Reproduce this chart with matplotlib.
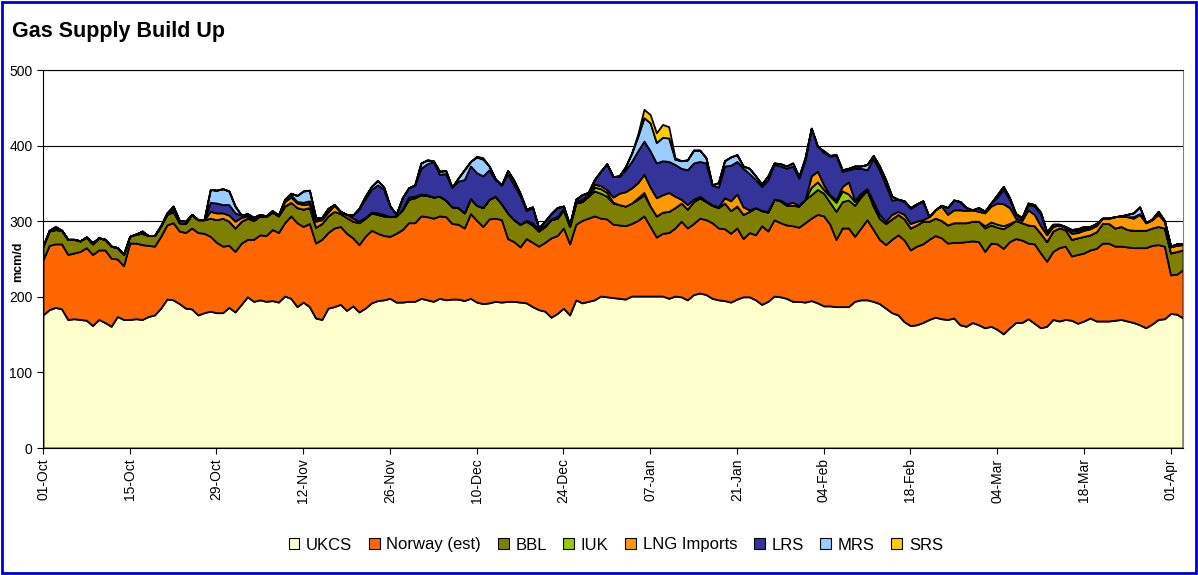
import matplotlib
matplotlib.use("Agg")
import numpy as np
import matplotlib.pyplot as plt
from matplotlib.patches import Patch, Rectangle

plt.rcParams['font.family'] = ['Liberation Sans', 'DejaVu Sans']

# daily supply, mcm/d, 01-Oct .. 03-Apr
ukcs = [176,183,186,184,170,171,170,169,162,170,
        166,161,174,170,170,171,170,174,176,185,
        197,196,191,185,184,176,179,181,179,179,
        186,180,190,200,194,196,194,195,193,201,
        198,187,193,187,172,170,185,187,190,182,
        188,180,185,192,195,196,198,193,193,194,
        194,198,196,194,198,196,197,197,195,198,
        193,191,192,194,193,194,194,193,192,187,
        183,181,173,178,185,176,196,192,194,196,
        201,200,199,198,197,201,201,201,201,201,
        201,198,201,200,196,203,205,203,198,196,
        195,193,197,200,200,196,190,194,201,200,
        198,194,194,193,195,192,188,188,187,187,
        187,194,196,196,194,191,185,179,176,167,
        162,163,166,170,173,171,170,172,163,161,
        166,163,159,161,157,151,159,166,166,171,
        165,159,161,170,168,170,169,165,168,172,
        168,168,168,169,170,168,166,163,159,164,
        170,171,178,177,172]

norway = [73,85,84,86,86,87,90,96,94,92,
          96,90,76,71,101,100,99,94,91,95,
          98,102,96,100,107,109,105,99,93,88,
          82,80,81,76,82,86,87,94,92,97,
          109,111,100,110,99,106,100,104,103,102,
          90,89,95,96,89,85,82,91,96,104,
          104,109,110,110,109,110,100,99,96,112,
          108,102,111,110,109,83,79,73,85,85,
          84,91,105,103,106,94,100,109,110,111,
          103,103,97,97,97,96,100,106,92,78,
          83,87,90,100,95,94,99,99,100,95,
          95,91,94,77,85,86,104,93,101,98,
          97,100,98,105,109,117,119,108,89,104,
          104,86,95,106,95,85,84,97,106,108,
          100,104,104,106,108,107,101,100,109,112,
          108,110,101,110,113,113,114,111,109,100,
          105,99,86,90,97,97,85,91,90,90,
          96,103,103,98,97,98,99,102,106,104,
          99,96,51,53,64]

bbl = [18,19,19,18,20,18,14,14,14,16,
       14,16,15,15,9,12,15,13,14,14,
       14,15,11,12,18,17,18,24,30,37,
       32,31,29,28,25,25,25,23,22,22,
       18,20,23,21,21,21,22,22,17,21,
       22,29,24,23,25,26,26,23,26,31,
       33,28,28,28,26,22,22,22,20,20,
       20,25,26,29,21,34,29,30,23,23,
       20,21,24,23,24,23,28,25,29,33,
       33,30,28,27,26,27,28,28,27,28,
       28,28,27,24,25,29,27,24,23,27,
       34,30,29,32,28,36,20,25,27,29,
       26,27,28,31,31,33,30,29,37,35,
       37,41,41,39,31,28,28,27,27,28,
       29,28,30,24,23,23,24,26,26,25,
       26,27,31,24,22,26,22,24,23,24,
       24,26,26,27,26,22,22,22,22,20,
       22,26,26,24,26,23,23,23,23,23,
       24,24,29,30,26]

iuk = [0,0,0,0,0,0,0,0,0,0,
       0,0,0,0,0,0,0,0,0,0,
       0,0,0,0,0,0,0,0,0,0,
       0,0,0,0,0,0,0,0,0,0,
       0,0,0,0,0,0,0,0,0,0,
       0,0,0,0,0,0,0,0,0,0,
       0,0,0,0,0,0,0,0,0,0,
       0,0,0,0,0,0,0,0,0,0,
       0,0,0,0,0,0,0,0,0,5,
       6,5,1,0,0,0,2,3,0,0,
       0,0,0,0,0,0,0,0,0,0,
       0,0,0,0,0,0,0,0,0,0,
       0,0,0,0,10,10,5,8,12,14,
       8,5,2,0,0,0,0,0,0,0,
       0,0,0,0,0,0,0,0,0,0,
       0,0,3,4,4,4,2,0,0,0,
       0,0,0,0,0,0,0,0,0,0,
       0,0,0,0,0,0,0,0,0,0,
       0,0,0,0,0]

lng = [0,0,0,0,0,0,0,0,0,0,
       0,0,0,0,0,0,0,0,0,0,
       0,0,0,0,0,0,0,9,9,7,
       8,9,5,3,2,1,1,1,1,6,
       7,6,6,5,8,5,5,8,2,4,
       4,2,1,1,2,2,0,0,1,3,
       2,1,1,0,0,0,0,0,0,0,
       0,0,0,0,0,0,0,0,1,3,
       1,1,1,2,2,1,2,3,2,4,
       4,4,7,15,19,20,20,24,25,24,
       23,25,15,5,6,3,2,1,1,1,
       7,13,16,10,2,0,0,1,0,1,
       2,4,1,0,15,14,6,2,3,6,
       16,2,3,2,6,5,3,6,4,6,
       6,5,2,6,11,19,14,17,17,16,
       15,13,17,21,28,29,21,3,3,20,
       15,10,9,6,4,3,8,7,8,8,
       8,7,7,15,14,17,16,21,10,11,
       16,9,8,8,7]

lrs = [0,1,1,0,0,0,0,0,0,0,
       0,0,0,0,0,0,0,0,0,0,
       2,4,0,0,0,0,0,12,13,11,
       14,11,3,2,2,1,0,1,0,2,
       3,2,3,4,3,2,3,1,1,0,
       4,16,25,30,37,33,14,2,15,12,
       15,34,41,47,29,35,26,35,44,43,
       43,42,39,22,25,52,46,38,13,20,
       3,6,7,12,3,1,3,6,3,6,
       19,34,27,22,29,35,42,44,48,46,
       45,41,42,41,46,48,46,50,26,26,
       42,47,43,51,48,37,32,42,46,45,
       47,48,36,52,63,33,43,51,59,20,
       16,42,33,25,57,59,48,19,16,17,
       20,22,24,0,0,1,9,13,11,4,
       0,5,2,4,8,19,11,5,3,7,
       11,16,3,2,0,0,4,3,3,1,
       1,0,0,0,0,0,2,1,0,0,
       1,0,1,2,1]

mrs = [0,0,3,0,0,0,0,0,2,0,
       0,0,0,0,0,0,3,0,0,0,
       0,3,3,3,0,0,0,17,17,21,
       18,9,0,1,0,0,0,0,0,1,
       2,8,15,14,2,1,2,0,0,0,
       0,1,3,4,6,3,0,0,0,0,
       0,7,5,1,4,4,0,4,13,6,
       21,22,5,1,0,4,6,3,2,1,
       0,0,0,0,0,0,0,0,0,0,
       0,0,0,1,4,11,19,31,37,27,
       31,31,7,10,13,17,15,7,0,6,
       7,11,9,3,7,5,3,5,2,3,
       3,4,2,3,0,0,2,1,1,2,
       2,3,3,7,4,5,7,5,0,1,
       1,1,1,0,0,0,0,0,0,0,
       0,0,0,0,3,4,2,1,1,2,
       2,2,1,1,1,1,1,2,2,2,
       2,0,0,0,0,3,5,9,0,1,
       3,1,0,0,0]

srs = [0,0,0,0,0,0,0,0,0,0,
       0,0,0,0,0,0,0,0,0,0,
       0,0,0,0,0,0,0,0,0,0,
       0,0,0,0,0,0,0,0,0,0,
       0,0,0,0,0,0,0,0,0,0,
       0,0,0,0,0,0,0,0,0,0,
       0,0,0,0,0,0,0,0,0,0,
       1,2,0,0,0,0,0,0,0,0,
       0,0,0,0,0,0,0,0,0,0,
       0,0,0,0,0,0,3,11,11,13,
       17,15,2,0,0,0,0,0,0,0,
       0,0,0,0,0,0,0,0,0,0,
       0,0,0,0,0,0,0,0,0,0,
       0,0,0,0,0,0,0,0,0,0,
       0,0,0,0,0,0,0,0,0,0,
       0,0,0,0,0,0,0,0,0,0,
       0,0,0,0,0,0,0,0,0,0,
       0,0,0,0,0,0,0,0,0,0,
       0,0,0,0,0]

labels = ['UKCS', 'Norway (est)', 'BBL', 'IUK', 'LNG Imports', 'LRS', 'MRS', 'SRS']
colors = ['#FFFFCC', '#FF6600', '#808000', '#99CC00', '#FF9900', '#333399', '#99CCFF', '#FFCC00']
tick_labels = ['01-Oct', '15-Oct', '29-Oct', '12-Nov', '26-Nov', '10-Dec', '24-Dec',
               '07-Jan', '21-Jan', '04-Feb', '18-Feb', '04-Mar', '18-Mar', '01-Apr']

series = [ukcs, norway, bbl, iuk, lng, lrs, mrs, srs]
days = np.arange(len(ukcs))

fig = plt.figure(figsize=(11.98, 5.75), dpi=100)
ax = fig.add_axes([43/1198, 1-448/575, (1183-43)/1198, (448-70)/575])

ax.stackplot(days, *series, colors=colors, edgecolor='black', linewidth=1.3, zorder=2)

ax.set_xlim(0, len(ukcs) - 1)
ax.set_ylim(0, 500)
ax.set_yticks(range(0, 501, 100))
ax.set_xticks(days[::14][:len(tick_labels)])
ax.set_xticklabels(tick_labels, rotation=90, fontsize=10)
ax.tick_params(axis='y', labelsize=10, length=4, direction='out')
ax.tick_params(axis='x', length=4, direction='out')

ax.yaxis.grid(True, color='black', lw=0.8)
ax.set_axisbelow(True)
for s in ['left', 'bottom', 'top']:
    ax.spines[s].set_color('black')
ax.spines['right'].set_color('#808080')

# y label sits in the tick-label column, as in the original
fig.text(18/1198, 1-262/575, 'mcm/d', fontsize=9, fontweight='bold',
         rotation=90, ha='center', va='center')

fig.text(12/1198, 1-32/575, 'Gas Supply Build Up', fontsize=15.5, fontweight='bold',
         va='center', ha='left')

handles = [Patch(facecolor=c, edgecolor='black', lw=0.8) for c in colors]
fig.legend(handles, labels, loc='center', bbox_to_anchor=(0.514, 1-545/575), ncol=8,
           frameon=False, fontsize=12, handlelength=0.65, handleheight=0.65,
           handletextpad=0.4, columnspacing=1.0)

fig.patches.append(Rectangle((0.002, 0.003), 0.996, 0.994, transform=fig.transFigure,
                             fill=False, edgecolor='#0000CC', lw=2))

fig.savefig('out.png', dpi=100)
